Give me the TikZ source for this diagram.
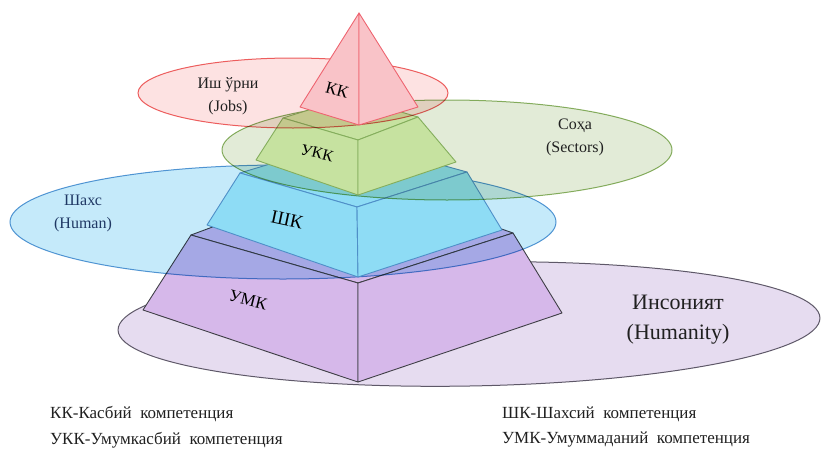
\documentclass[tikz,border=0pt]{standalone}
\usepackage{fontspec}
\setmainfont{Liberation Serif}
\definecolor{humfill}{HTML}{E6DCF0}
\definecolor{humedge}{HTML}{5E5868}
\definecolor{umkfill}{HTML}{D6B8EA}
\definecolor{umkedge}{HTML}{3F3F46}
\definecolor{hfill}{HTML}{C5EAFA}
\definecolor{hedge}{HTML}{5B9BD5}
\definecolor{shkfill}{HTML}{8EDCF5}
\definecolor{shkedge}{HTML}{4F8FC8}
\definecolor{sfill}{HTML}{E2EBD7}
\definecolor{sedge}{HTML}{8DB465}
\definecolor{ukkfill}{HTML}{C6E2A0}
\definecolor{ukkedge}{HTML}{84AE5C}
\definecolor{jfill}{HTML}{FDE2E2}
\definecolor{jedge}{HTML}{EE6464}
\definecolor{kkfill}{HTML}{F9C3C8}
\definecolor{kkedge}{HTML}{EE6470}
\definecolor{txtgrey}{HTML}{202020}
\definecolor{txtnavy}{HTML}{1F3864}
\begin{document}
\begin{tikzpicture}[x=1pt,y=-1pt,
  ell/.style={line width=1pt},
  face/.style={line width=0.9pt, line join=round},
  umkface/.style={face, fill=umkfill, draw=umkedge},
  shkface/.style={face, fill=shkfill, draw=shkedge},
  ukkface/.style={face, fill=ukkfill, draw=ukkedge},
  kkface/.style={face, fill=kkfill, draw=kkedge},
  ellabel/.style={inner sep=0pt, text=txtgrey, align=center, font=\fontsize{16}{23}\selectfont},
  pyrlabel/.style={inner sep=0pt, text=black},
  legend/.style={inner sep=0pt, anchor=west, text=txtgrey, font=\fontsize{17}{20}\selectfont}]
\useasboundingbox (0,0) rectangle (821,455);

% Humanity ellipse
\draw[ell, fill=humfill, draw=humedge, rotate around={1:(469,324)}] (469,324) ellipse [x radius=351, y radius=62];

% UMK frustum
\coordinate (m-tl) at (191,235);
\coordinate (m-tf) at (358,283);
\coordinate (m-tr) at (513,233);
\coordinate (m-tb) at (350,176);
\coordinate (m-bl) at (143,310);
\coordinate (m-bf) at (358,382);
\coordinate (m-br) at (562,313);
\filldraw[umkface] (m-tl) -- (m-tb) -- (m-tr) -- (m-tf) -- cycle;
\filldraw[umkface] (m-bl) -- (m-bf) -- (m-tf) -- (m-tl) -- cycle;
\filldraw[umkface] (m-bf) -- (m-br) -- (m-tr) -- (m-tf) -- cycle;

% Human ellipse
\begin{scope}[blend mode=multiply]
\draw[ell, fill=hfill, draw=hedge] (283,222) ellipse [x radius=273, y radius=57];
\end{scope}

% SHK frustum
\coordinate (s-tl) at (240,173);
\coordinate (s-tf) at (357,207);
\coordinate (s-tr) at (467,172);
\coordinate (s-tb) at (350,140);
\coordinate (s-bl) at (207,225);
\coordinate (s-bf) at (358,277);
\coordinate (s-br) at (502,230);
\filldraw[shkface] (s-tl) -- (s-tb) -- (s-tr) -- (s-tf) -- cycle;
\filldraw[shkface] (s-bl) -- (s-bf) -- (s-tf) -- (s-tl) -- cycle;
\filldraw[shkface] (s-bf) -- (s-br) -- (s-tr) -- (s-tf) -- cycle;

% Sectors ellipse
\begin{scope}[blend mode=multiply]
\draw[ell, fill=sfill, draw=sedge] (447,150) ellipse [x radius=225, y radius=50];
\end{scope}

% UKK frustum
\coordinate (u-tl) at (283,118);
\coordinate (u-tf) at (358,140);
\coordinate (u-tr) at (418,117);
\coordinate (u-tb) at (350,97);
\coordinate (u-bl) at (256,160);
\coordinate (u-bf) at (358,195);
\coordinate (u-br) at (456,162);
\filldraw[ukkface] (u-tl) -- (u-tb) -- (u-tr) -- (u-tf) -- cycle;
\filldraw[ukkface] (u-bl) -- (u-bf) -- (u-tf) -- (u-tl) -- cycle;
\filldraw[ukkface] (u-bf) -- (u-br) -- (u-tr) -- (u-tf) -- cycle;

% Jobs ellipse
\begin{scope}[blend mode=multiply]
\draw[ell, fill=jfill, draw=jedge] (293,93) ellipse [x radius=155, y radius=35];
\end{scope}

% KK pyramid
\coordinate (k-a) at (359,13);
\coordinate (k-l) at (300,107);
\coordinate (k-f) at (359,125);
\coordinate (k-r) at (418,107);
\filldraw[kkface] (k-l) -- (k-f) -- (k-a) -- cycle;
\filldraw[kkface] (k-f) -- (k-r) -- (k-a) -- cycle;

% ellipse labels
\node[ellabel] (jobs) at (228,96) {Иш ўрни\\(Jobs)};
\node[ellabel] (sectors) at (575,137) {Соҳа\\(Sectors)};
\node[ellabel, text=txtnavy] (human) at (83,213) {Шахс\\(Human)};
\node[ellabel, font=\fontsize{22}{30}\selectfont] (humanity) at (678,320) {Инсоният\\(Humanity)};

% pyramid labels
\node[pyrlabel, rotate=-15, font=\fontsize{17}{20}\selectfont] (kk) at (337,90) {КК};
\node[pyrlabel, rotate=-14, font=\fontsize{16}{20}\selectfont] (ukk) at (317,153) {УКК};
\node[pyrlabel, rotate=-12, font=\fontsize{19}{22}\selectfont] (shk) at (287,220) {ШК};
\node[pyrlabel, rotate=-14, font=\fontsize{17}{20}\selectfont] (umk) at (248,300) {УМК};

% legend
\node[legend] (l1) at (50,414) {КК-Касбий\ \ компетенция};
\node[legend] (l2) at (50,440) {УКК-Умумкасбий\ \ компетенция};
\node[legend] (l3) at (502,414) {ШК-Шахсий\ \ компетенция};
\node[legend] (l4) at (502,440) {УМК-Умуммаданий\ \ компетенция};
\end{tikzpicture}
\end{document}
